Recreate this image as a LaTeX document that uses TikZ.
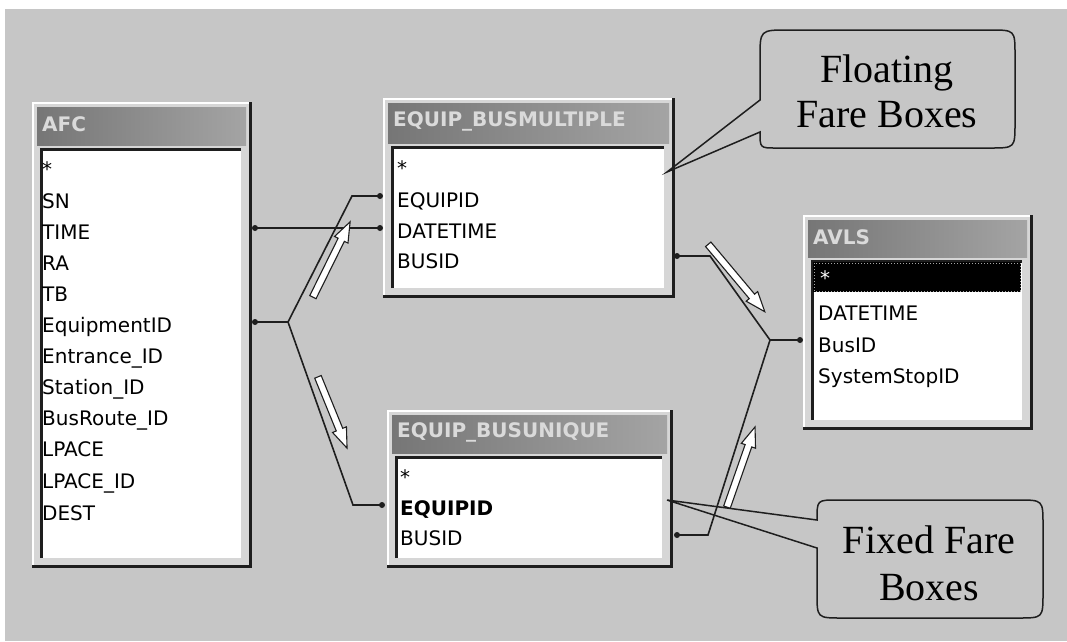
\documentclass[tikz,border=0pt]{standalone}
\usepackage{fontspec}
\setmainfont{Liberation Serif}
\newfontfamily\fieldfont{DejaVu Sans}
\usetikzlibrary{calc}

\definecolor{bggray}{HTML}{C6C6C6}
\definecolor{framegray}{HTML}{D6D6D6}
\definecolor{hdrdark}{HTML}{767676}
\definecolor{hdrlight}{HTML}{A4A4A4}
\definecolor{titlegray}{HTML}{DADADA}
\definecolor{edgedark}{HTML}{1E1E1E}

\tikzset{
  tblframe/.style={fill=framegray, draw=none, inner sep=0pt, outer sep=0pt},
  field/.style={anchor=base west, inner sep=0pt, text=black,
    font=\fieldfont\fontsize{20}{24}\selectfont},
  boldfield/.style={field, font=\fieldfont\bfseries\fontsize{20}{24}\selectfont},
  tbltitle/.style={anchor=west, inner sep=0pt, text=titlegray,
    font=\fieldfont\bfseries\fontsize{20}{24}\selectfont},
  joinline/.style={line width=1.6pt, edgedark},
  portdot/.style={fill=edgedark},
  hollowarrow/.style={draw=edgedark, fill=white, line width=1.1pt, line join=miter},
  callout/.style={draw=edgedark, line width=1.5pt},
  calltext/.style={anchor=base, inner sep=0pt, text=black,
    font=\fontsize{40}{47}\selectfont}
}

% Access-style table window: name, title, left, top, right, bottom, header bottom
\newcommand{\acctable}[7]{%
  \node[tblframe, minimum width={#5-#3}, minimum height={#6-#4},
        anchor=north west] (#1) at (#3,#4) {};
  \draw[white, line width=2pt] (#3+1,#6) -- (#3+1,#4+1) -- (#5,#4+1);
  \draw[edgedark, line width=3pt] (#5-1.5,#4) -- (#5-1.5,#6-1.5) -- (#3,#6-1.5);
  \shade[left color=hdrdark, right color=hdrlight] (#3+5,#4+5) rectangle (#5-6,#7);
  \node[tbltitle] (#1-title) at (#3+10,{(#4+#7)/2+1}) {#2};
  \fill[white] (#3+8,#7+3) rectangle (#5-11,#6-10);
  \draw[edgedark, line width=3pt] (#3+9.5,#6-10) -- (#3+9.5,#7+4.5) -- (#5-11,#7+4.5);
}

% hollow block arrow: name, centre x, centre y, direction angle, length
\newcommand{\flowarrow}[5]{%
  \begin{scope}[shift={(#2,#3)}, rotate=#4]
    \coordinate (#1) at (0,0);
    \filldraw[hollowarrow] ({-#5/2},-3.5) -- ({#5/2-20},-3.5) -- ({#5/2-20},-7.5)
      -- ({#5/2},0) -- ({#5/2-20},7.5) -- ({#5/2-20},3.5) -- ({-#5/2},3.5) -- cycle;
  \end{scope}
}

\begin{document}
\begin{tikzpicture}[x=1pt,y=-1pt]
\useasboundingbox (0,0) rectangle (1067,641);
\fill[white] (0,0) rectangle (1067,641);
\fill[bggray] (5,9) rectangle (1067,641);

% ---------- tables ----------
\acctable{afc}{AFC}{32}{102}{252}{568}{145}
\acctable{bm}{EQUIP\_BUSMULTIPLE}{383}{98}{675}{298}{143}
\acctable{bu}{EQUIP\_BUSUNIQUE}{387}{410}{673}{568}{453}
\acctable{avls}{AVLS}{803}{215}{1033}{430}{257}

% AFC fields
\node[field] (afc-star) at (42,176) {*};
\node[field] (afc-sn) at (42,208) {SN};
\node[field] (afc-time) at (42,239) {TIME};
\node[field] (afc-ra) at (42,270) {RA};
\node[field] (afc-tb) at (42,301) {TB};
\node[field] (afc-equip) at (42,332) {EquipmentID};
\node[field] (afc-entr) at (42,363) {Entrance\_ID};
\node[field] (afc-stat) at (42,394) {Station\_ID};
\node[field] (afc-route) at (42,425) {BusRoute\_ID};
\node[field] (afc-lpace) at (42,456) {LPACE};
\node[field] (afc-lpid) at (42,488) {LPACE\_ID};
\node[field] (afc-dest) at (42,520) {DEST};

% EQUIP_BUSMULTIPLE fields
\node[field] (bm-star) at (397,175) {*};
\node[field] (bm-equipid) at (397,207) {EQUIPID};
\node[field] (bm-datetime) at (397,238) {DATETIME};
\node[field] (bm-busid) at (397,268) {BUSID};

% EQUIP_BUSUNIQUE fields
\node[field] (bu-star) at (400,484) {*};
\node[boldfield] (bu-equipid) at (400,515) {EQUIPID};
\node[field] (bu-busid) at (400,545) {BUSID};

% AVLS fields, first row selected
\fill[black] (813,262) rectangle (1021,292);
\draw[gray!70, dotted, line width=1pt] (814,263) rectangle (1020,291);
\node[field, text=white] (avls-star) at (820,285) {*};
\node[field] (avls-datetime) at (818,320) {DATETIME};
\node[field] (avls-busid) at (818,352) {BusID};
\node[field] (avls-stop) at (818,383) {SystemStopID};

% ---------- join lines ----------
\coordinate (afc-time-port) at (255,228);
\coordinate (bm-datetime-port) at (380,228);
\coordinate (afc-equip-port) at (255,322);
\coordinate (equip-fork) at (288,322);
\coordinate (bm-equipid-port) at (380,196);
\coordinate (bu-equipid-port) at (382,505);
\coordinate (bm-busid-port) at (677,256);
\coordinate (bu-busid-port) at (677,535);
\coordinate (avls-busid-port) at (800,340);
\coordinate (busid-fork) at (770,340);

\draw[joinline] (afc-time-port) -- (bm-datetime-port);
\draw[joinline] (afc-equip-port) -- (equip-fork) -- ([xshift=-28pt]bm-equipid-port) -- (bm-equipid-port);
\draw[joinline] (equip-fork) -- ([xshift=-29pt]bu-equipid-port) -- (bu-equipid-port);
\draw[joinline] (bm-busid-port) -- ([xshift=33pt]bm-busid-port) -- (busid-fork) -- (avls-busid-port);
\draw[joinline] (bu-busid-port) -- ([xshift=31pt]bu-busid-port) -- (busid-fork);

\foreach \p in {afc-time-port, bm-datetime-port, afc-equip-port, bm-equipid-port,
                bu-equipid-port, bm-busid-port, bu-busid-port, avls-busid-port}
  \fill[portdot] (\p) circle (3pt);

% ---------- direction arrows ----------
\flowarrow{flow-bm}{331.5}{259.5}{63.7}{84}
\flowarrow{flow-bu}{332.5}{412.5}{-67.8}{77}
\flowarrow{flow-avls-a}{736.5}{278}{-50}{88}
\flowarrow{flow-avls-b}{741}{467}{70.7}{85}

% ---------- callouts ----------
\draw[callout] (667,172) -- (760,132) .. controls (760,148) .. (776,148)
  -- (990,148) .. controls (1015,148) .. (1015,123)
  -- (1015,55) .. controls (1015,30) .. (990,30)
  -- (788,30) .. controls (760,30) .. (760,58)
  -- (760,100) -- cycle;
\node[calltext] (float-l1) at (887,82) {Floating};
\node[calltext] (float-l2) at (887,127) {Fare Boxes};

\draw[callout] (667,500) -- (817,520) .. controls (817,500) .. (837,500)
  -- (1018,500) .. controls (1043,500) .. (1043,525)
  -- (1043,593) .. controls (1043,618) .. (1018,618)
  -- (842,618) .. controls (817,618) .. (817,593)
  -- (817,548) -- cycle;
\node[calltext] (fixed-l1) at (929,553) {Fixed Fare};
\node[calltext] (fixed-l2) at (929,600) {Boxes};
\end{tikzpicture}
\end{document}
